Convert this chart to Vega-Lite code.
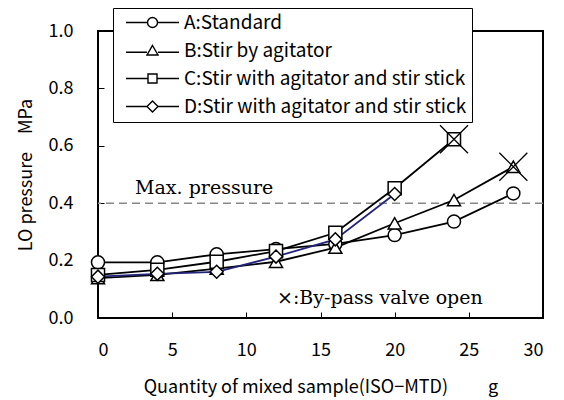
{
  "$schema": "https://vega.github.io/schema/vega-lite/v6.json",
  "width": 445,
  "height": 287,
  "autosize": "none",
  "padding": {"left": 98, "top": 31, "right": 21, "bottom": 82},
  "background": "white",
  "config": {
    "view": {"stroke": "black", "strokeWidth": 2},
    "axis": {
      "labelFont": "Noto Sans CJK JP",
      "labelFontSize": 18,
      "labelColor": "black",
      "titleFont": "Noto Sans CJK JP",
      "titleFontSize": 18,
      "titleFontWeight": "normal",
      "titleColor": "black",
      "grid": false,
      "domain": false,
      "tickColor": "black",
      "tickWidth": 1,
      "tickSize": -6
    }
  },
  "datasets": {
    "series": [
      {"series": "A:Standard", "x": 0, "y": 0.194},
      {"series": "A:Standard", "x": 4, "y": 0.194},
      {"series": "A:Standard", "x": 8, "y": 0.222},
      {"series": "A:Standard", "x": 12, "y": 0.240},
      {"series": "A:Standard", "x": 16, "y": 0.258},
      {"series": "A:Standard", "x": 20, "y": 0.289},
      {"series": "A:Standard", "x": 24, "y": 0.336},
      {"series": "A:Standard", "x": 28, "y": 0.434},
      {"series": "B:Stir by agitator", "x": 0, "y": 0.139},
      {"series": "B:Stir by agitator", "x": 4, "y": 0.150},
      {"series": "B:Stir by agitator", "x": 8, "y": 0.172},
      {"series": "B:Stir by agitator", "x": 12, "y": 0.196},
      {"series": "B:Stir by agitator", "x": 16, "y": 0.245},
      {"series": "B:Stir by agitator", "x": 20, "y": 0.330},
      {"series": "B:Stir by agitator", "x": 24, "y": 0.411},
      {"series": "B:Stir by agitator", "x": 28, "y": 0.527},
      {"series": "C:Stir with agitator and stir stick", "x": 0, "y": 0.150},
      {"series": "C:Stir with agitator and stir stick", "x": 4, "y": 0.168},
      {"series": "C:Stir with agitator and stir stick", "x": 8, "y": 0.196},
      {"series": "C:Stir with agitator and stir stick", "x": 12, "y": 0.233},
      {"series": "C:Stir with agitator and stir stick", "x": 16, "y": 0.297},
      {"series": "C:Stir with agitator and stir stick", "x": 20, "y": 0.452},
      {"series": "C:Stir with agitator and stir stick", "x": 24, "y": 0.623},
      {"series": "D:Stir with agitator and stir stick ", "x": 0, "y": 0.144},
      {"series": "D:Stir with agitator and stir stick ", "x": 4, "y": 0.154},
      {"series": "D:Stir with agitator and stir stick ", "x": 8, "y": 0.161},
      {"series": "D:Stir with agitator and stir stick ", "x": 12, "y": 0.214},
      {"series": "D:Stir with agitator and stir stick ", "x": 16, "y": 0.274},
      {"series": "D:Stir with agitator and stir stick ", "x": 20, "y": 0.432}
    ],
    "crosses": [
      {"x": 24, "y": 0.623},
      {"x": 28, "y": 0.527}
    ],
    "notes": [
      {"x": 2.5, "y": 0.453, "label": "Max. pressure"},
      {"x": 12.07, "y": 0.07, "label": "×:By-pass valve open"}
    ]
  },
  "resolve": {"scale": {"shape": "independent"}, "legend": {"shape": "independent"}},
  "layer": [
    {
      "data": {"values": [{"limit": 0.4}]},
      "mark": {"type": "rule", "color": "#888888", "strokeWidth": 1.5, "strokeDash": [8, 5]},
      "encoding": {"y": {"field": "limit", "type": "quantitative"}}
    },
    {
      "data": {"name": "series"},
      "mark": {"type": "line", "strokeWidth": 1.8},
      "encoding": {
        "x": {
          "field": "x", "type": "quantitative",
          "scale": {"domain": [0, 30], "nice": false},
          "axis": {"values": [0, 5, 10, 15, 20, 25, 30], "labelPadding": 29, "title": "Quantity of mixed sample(ISO−MTD)　　 g", "titlePadding": 19}
        },
        "y": {
          "field": "y", "type": "quantitative",
          "scale": {"domain": [0, 1], "nice": false},
          "axis": {"values": [0, 0.2, 0.4, 0.6, 0.8, 1], "format": ".1f", "labelPadding": 31, "title": "LO pressure　MPa", "titlePadding": 13}
        },
        "color": {
          "field": "series", "type": "nominal", "legend": null,
          "scale": {"range": ["black", "black", "black", "#23237a"]}
        }
      }
    },
    {
      "data": {"name": "series"},
      "mark": {"type": "point", "filled": false, "fill": "white", "stroke": "black", "strokeWidth": 1.5, "opacity": 1, "size": 170},
      "encoding": {
        "x": {"field": "x", "type": "quantitative"},
        "y": {"field": "y", "type": "quantitative"},
        "shape": {
          "field": "series", "type": "nominal",
          "scale": {"range": ["circle", "triangle-up", "square", "diamond"]},
          "legend": null
        }
      }
    },
    {
      "data": {"name": "series"},
      "mark": {"type": "point", "filled": false, "opacity": 0, "size": 100},
      "encoding": {
        "x": {"field": "x", "type": "quantitative"},
        "y": {"field": "y", "type": "quantitative"},
        "shape": {
          "field": "series", "type": "nominal",
          "scale": {"range": [
            "M-5.3,0H-1M1,0H5.3M-1,0A1,1 0 1,0 1,0A1,1 0 1,0 -1,0",
            "M-5.3,0.35H-1.1M1.1,0.35H5.3M0,-1L1.1,0.9L-1.1,0.9Z",
            "M-5.3,0H-0.9M0.9,0H5.3M-0.9,-0.9H0.9V0.9H-0.9Z",
            "M-5.3,0H-1.1M1.1,0H5.3M0,-1.1L1.1,0L0,1.1L-1.1,0Z"
          ]},
          "legend": {
            "orient": "none",
            "legendX": 15,
            "legendY": -23,
            "title": null,
            "padding": 5,
            "fillColor": "white",
            "strokeColor": "black",
            "labelFont": "Noto Sans CJK JP",
            "labelFontSize": 19,
            "labelColor": "black",
            "labelLimit": 0,
            "rowPadding": 8,
            "symbolSize": 100,
            "symbolOffset": 25,
            "labelOffset": 22,
            "symbolOpacity": 1,
            "symbolStrokeWidth": 1.4,
            "symbolFillColor": "white",
            "symbolStrokeColor": "black"
          }
        }
      }
    },
    {
      "data": {"name": "crosses"},
      "mark": {"type": "point", "shape": "M-1,-1L1,1M-1,1L1,-1", "size": 784, "stroke": "black", "strokeWidth": 1.3, "filled": false, "opacity": 1},
      "encoding": {
        "x": {"field": "x", "type": "quantitative"},
        "y": {"field": "y", "type": "quantitative"}
      }
    },
    {
      "data": {"name": "notes"},
      "mark": {"type": "text", "font": "DejaVu Serif", "fontSize": 19, "align": "left", "baseline": "middle", "color": "black"},
      "encoding": {
        "x": {"field": "x", "type": "quantitative"},
        "y": {"field": "y", "type": "quantitative"},
        "text": {"field": "label", "type": "nominal"}
      }
    }
  ]
}
